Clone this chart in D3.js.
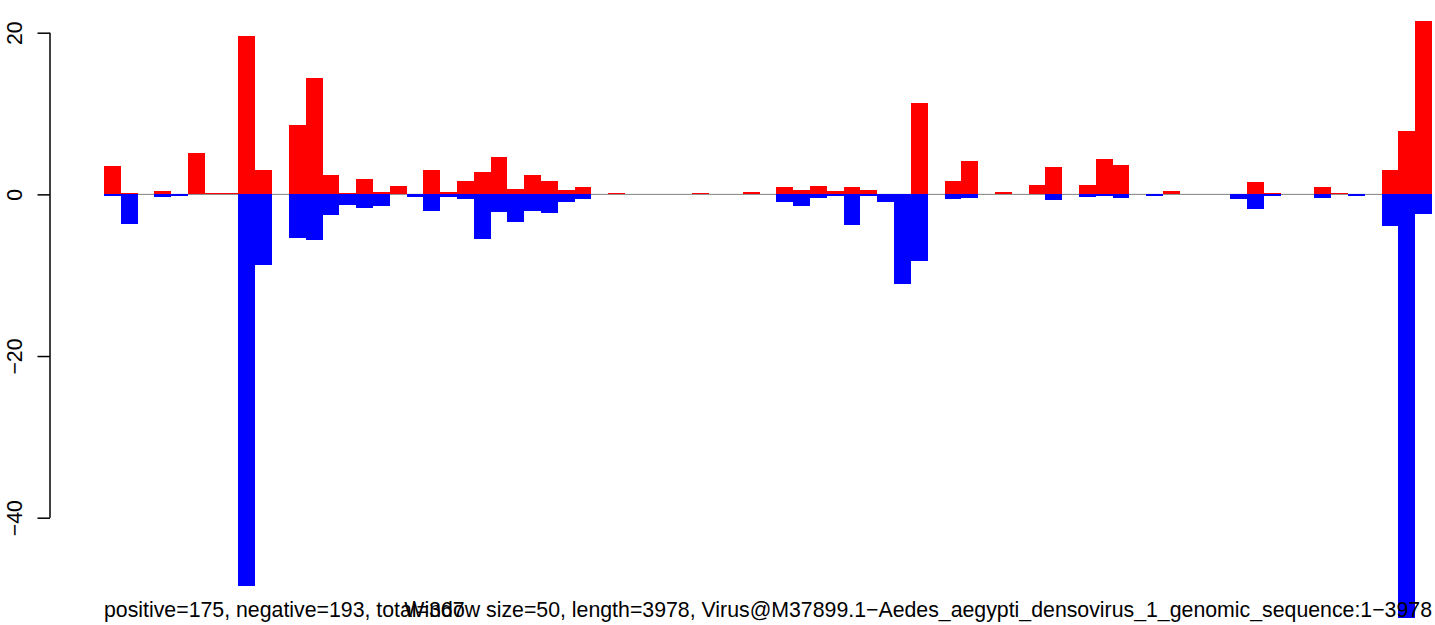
<!DOCTYPE html>
<html>
<head>
<meta charset="utf-8">
<script src="https://cdn.jsdelivr.net/npm/d3@7"></script>
<style>
  html, body { margin: 0; padding: 0; background: #fff; }
  svg { display: block; }
  text { font-family: "Liberation Sans", Arial, Helvetica, sans-serif; }
</style>
</head>
<body>
<svg id="chart" width="1435" height="625"></svg>
<script>
// Window index (79 windows of 50 nt)
const windows = d3.range(79);
// Positive-strand values per window
const positive = [3.55,0.2,0,0.45,0,5.17,0.2,0.2,19.55,3.06,
  0,8.64,14.34,2.44,0.2,1.94,0.3,1.07,0,3.06,
  0.33,1.69,2.81,4.67,0.7,2.44,1.69,0.58,0.95,0,
  0.12,0,0,0,0,0.12,0,0,0.25,0,
  0.87,0.5,0.99,0.37,0.87,0.5,0,0,11.26,0,
  1.65,4.09,0,0.25,0,1.12,3.35,0,1.12,4.34,
  3.6,0,0,0.37,0,0,0,0.08,1.57,0.2,
  0,0,0.95,0.12,0,0,3.06,7.89,21.4];
// Negative-strand values per window (plotted downward)
const negative = [0.25,3.7,0,0.37,0.25,0,0,0,48.45,8.68,
  0,5.45,5.7,2.6,1.36,1.74,1.38,0,0.37,2.1,
  0.37,0.62,5.58,2.23,3.47,2.1,2.36,0.9,0.62,0,
  0,0,0,0,0,0,0,0,0,0,
  0.95,1.49,0.5,0.2,3.84,0.2,0.95,11.1,8.3,0,
  0.62,0.5,0,0,0,0,0.74,0,0.37,0.25,
  0.5,0,0.25,0,0,0,0,0.62,1.86,0.25,
  0,0,0.5,0,0.25,0,3.97,52.4,2.48];
const yTicks = [-40, -20, 0, 20];
const leftLabel = "positive=175, negative=193, total=367";
const rightLabel = "Window size=50, length=3978, Virus@M37899.1\u2212Aedes_aegypti_densovirus_1_genomic_sequence:1\u22123978";

const svg = d3.select("#chart");
const FS = 21.3;

const x = d3.scaleLinear().domain([0, windows.length]).range([104, 1432]);
const y = d3.scaleLinear().domain([-40, 20]).range([517.7, 32.7]);

// zero line
svg.append("line")
  .attr("x1", x(0)).attr("x2", x(windows.length))
  .attr("y1", y(0)).attr("y2", y(0))
  .attr("stroke", "#808080").attr("stroke-width", 1);

// positive bars
svg.append("g").selectAll("rect").data(windows).join("rect")
  .attr("x", i => x(i)).attr("width", i => x(i + 1) - x(i))
  .attr("y", i => y(positive[i])).attr("height", i => y(0) - y(positive[i]))
  .attr("fill", "#ff0000").attr("shape-rendering", "crispEdges");

// negative bars
svg.append("g").selectAll("rect").data(windows).join("rect")
  .attr("x", i => x(i)).attr("width", i => x(i + 1) - x(i))
  .attr("y", y(0)).attr("height", i => y(-negative[i]) - y(0))
  .attr("fill", "#0000ff").attr("shape-rendering", "crispEdges");

// y axis
const axis = d3.axisLeft(y).tickValues(yTicks).tickSize(12.5)
  .tickFormat(d => (d < 0 ? "\u2212" + Math.abs(d) : String(d)));
const ag = svg.append("g").attr("transform", "translate(50,0)").call(axis);
ag.select(".domain").attr("d", `M-12.5,${y(20)}H0V${y(-40)}H-12.5`)
  .attr("stroke", "#000").attr("stroke-width", 1.5).attr("fill", "none");
ag.selectAll(".domain").attr("d", `M0,${y(20)}V${y(-40)}`);
ag.selectAll(".tick line").attr("stroke", "#000").attr("stroke-width", 1.5);
ag.selectAll(".tick text")
  .attr("x", null).attr("dy", null)
  .attr("transform", "translate(-28,0) rotate(-90)")
  .attr("text-anchor", "middle")
  .attr("font-size", FS)
  .attr("font-family", "Liberation Sans, Arial, sans-serif")
  .attr("fill", "#000");

// bottom labels
svg.append("text").attr("x", 104).attr("y", 616.5)
  .attr("text-anchor", "start").attr("font-size", FS).attr("fill", "#000")
  .text(leftLabel);
svg.append("text").attr("x", 1432).attr("y", 616.5)
  .attr("text-anchor", "end").attr("font-size", FS).attr("fill", "#000")
  .text(rightLabel);
</script>
</body>
</html>
